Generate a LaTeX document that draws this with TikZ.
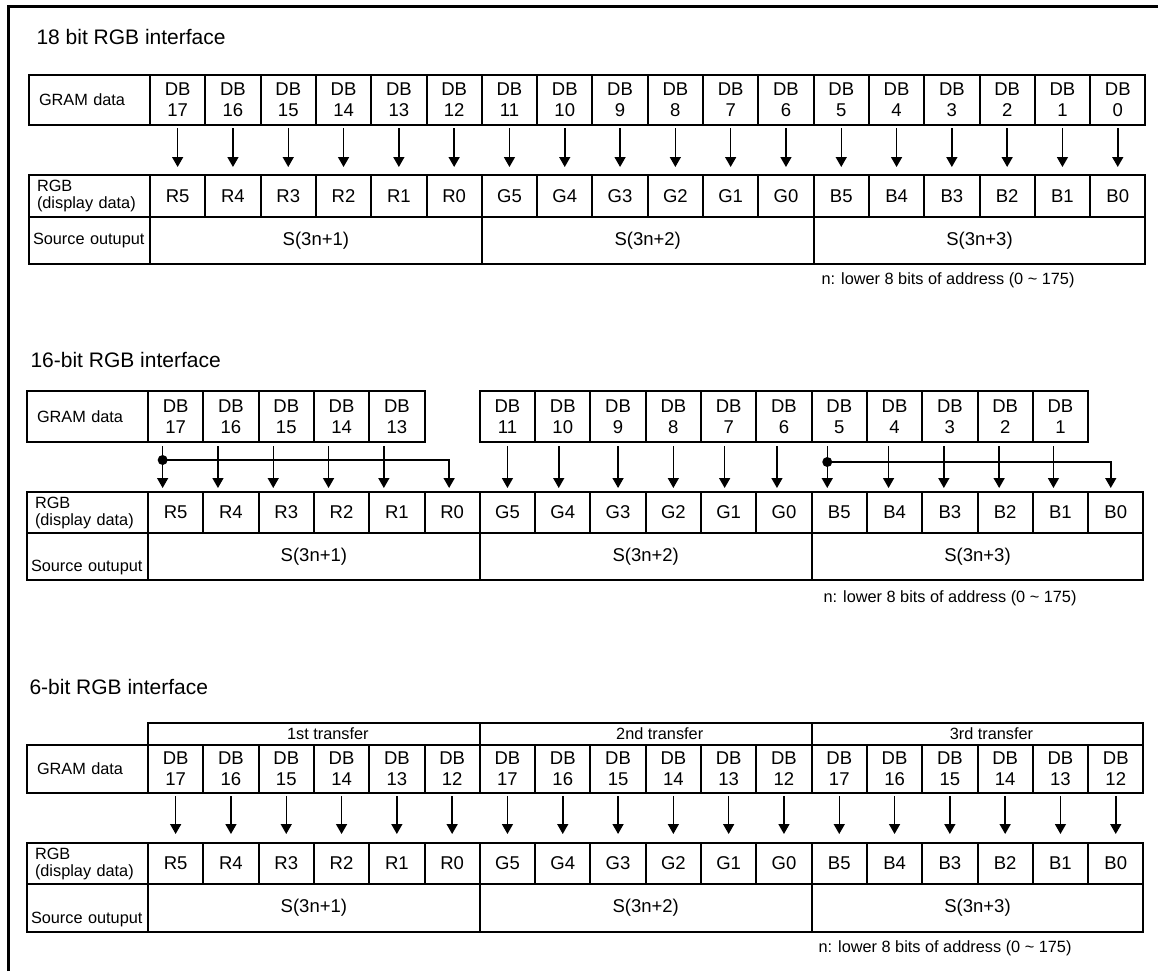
\documentclass[tikz,border=0pt]{standalone}
\usepackage{fontspec}
\setmainfont{Liberation Sans}
\usetikzlibrary{arrows.meta}

\tikzset{
  cell/.style={draw,line width=2pt,inner sep=0pt,minimum width=55.3pt,align=center,font=\fontsize{18.5}{21}\selectfont},
  gram/.style={cell,minimum height=50pt},
  rgbcell/.style={cell,minimum height=42pt},
  src/.style={cell,minimum width=331.8pt,minimum height=47pt},
  lab/.style 2 args={draw,line width=2pt,minimum width=121pt,inner ysep=0pt,inner xsep=#1,text width=#2,align=left,font=\fontsize{16.3}{17}\selectfont},
  title/.style={anchor=west,font=\fontsize{21}{25}\selectfont},
  note/.style={anchor=west,font=\fontsize{16.3}{19}\selectfont},
  arr/.style={line width=1.5pt,-{Triangle[length=10pt,width=11pt]}},
}

\begin{document}
\begin{tikzpicture}[x=1pt,y=-1pt]
\useasboundingbox (0,0) rectangle (1158,971);
\draw[line width=3pt] (8,971) -- (8,7) -- (1158,7);

\node[title] (tA) at (33,37) {18 bit RGB interface};
\node[lab={10pt}{101pt},minimum height=50pt] (lgA) at (89.5,100) {GRAM data};
\node[lab={8pt}{105pt},minimum height=42pt] (lrA) at (89.5,196) {RGB\\(display data)};
\node[lab={4pt}{113pt},minimum height=47pt] (lsA) at (89.5,240.5) {Source outuput};
\foreach \k in {0,...,17}{
  \pgfmathtruncatemacro\nb{17-\k}
  \node[gram] (gA\k) at ({150+55.3*(\k+.5)},100) {DB\\\nb};
}
\foreach \txt [count=\k from 0] in {R5,R4,R3,R2,R1,R0,G5,G4,G3,G2,G1,G0,B5,B4,B3,B2,B1,B0}
  \node[rgbcell] (rA\k) at ({150+55.3*(\k+.5)},196) {\txt};
\foreach \txt [count=\j from 0] in {S(3n+1),S(3n+2),S(3n+3)}
  \node[src] (sA\j) at ({150+331.8*(\j+.5)},240.5) {\txt};
\foreach \k in {0,...,17}
  \draw[arr,shorten <=2pt,shorten >=7pt] (gA\k) -- (rA\k);
\node[note] (nA) at (818,280) {n: lower 8 bits of address (0 \textasciitilde{} 175)};

\node[title] (tB) at (27,360) {16-bit RGB interface};
\node[lab={10pt}{101pt},minimum height=51pt] (lgB) at (87.5,416.5) {GRAM data};
\node[lab={8pt}{105pt},minimum height=41pt] (lrB) at (87.5,512.5) {RGB\\(display data)};
\node[lab={4pt}{113pt},minimum height=47pt,text height=30pt,text depth=0pt] (lsB) at (87.5,556.5) {Source outuput};
\foreach \k in {0,...,4,6,7,...,16}{
  \pgfmathtruncatemacro\nb{17-\k}
  \node[gram,minimum height=51pt] (gB\k) at ({148+55.3*(\k+.5)},416.5) {DB\\\nb};
}
\foreach \txt [count=\k from 0] in {R5,R4,R3,R2,R1,R0,G5,G4,G3,G2,G1,G0,B5,B4,B3,B2,B1,B0}
  \node[rgbcell,minimum height=41pt] (rB\k) at ({148+55.3*(\k+.5)},512.5) {\txt};
\foreach \txt [count=\j from 0] in {S(3n+1),S(3n+2),S(3n+3)}
  \node[src] (sB\j) at ({148+331.8*(\j+.5)},556.5) {\txt};
\foreach \k/\d in {0/-13,1/-13,2/-13,3/-13,4/-13,6/0,7/-4,8/0,9/0,10/-4,11/-7,12/-12,13/-6,14/-6,15/-6,16/-7}
  \draw[arr,shorten <=3pt,shorten >=3pt] ([xshift=\d pt]gB\k.south) -- ([xshift=\d pt]rB\k.north);
\coordinate (jR) at ([xshift=-13pt]gB0.south |- 0,460);
\coordinate (jB) at ([xshift=-12pt]gB12.south |- 0,462);
\fill (jR) circle (5pt);
\fill (jB) circle (5pt);
\draw[arr,shorten >=3pt] (jR) -| ([xshift=-3pt]rB5.north);
\draw[arr,shorten >=3pt] (jB) -| ([xshift=-5pt]rB17.north);
\node[note] (nB) at (820,598) {n: lower 8 bits of address (0 \textasciitilde{} 175)};

\node[title] (tC) at (26,687) {6-bit RGB interface};
\foreach \txt [count=\j from 0] in {1st,2nd,3rd}
  \node[cell,minimum width=331.8pt,minimum height=22pt,font=\fontsize{16.3}{19}\selectfont] (xC\j) at ({148+331.8*(\j+.5)},734) {\hspace*{28pt}\txt{} transfer};
\node[lab={10pt}{101pt},minimum height=48pt] (lgC) at (87.5,769) {GRAM data};
\node[lab={8pt}{105pt},minimum height=41pt] (lrC) at (87.5,863.5) {RGB\\(display data)};
\node[lab={4pt}{113pt},minimum height=48pt,text height=30pt,text depth=0pt] (lsC) at (87.5,908) {Source outuput};
\foreach \k in {0,...,17}{
  \pgfmathtruncatemacro\nb{17-mod(\k,6)}
  \node[gram,minimum height=48pt] (gC\k) at ({148+55.3*(\k+.5)},769) {DB\\\nb};
}
\foreach \txt [count=\k from 0] in {R5,R4,R3,R2,R1,R0,G5,G4,G3,G2,G1,G0,B5,B4,B3,B2,B1,B0}
  \node[rgbcell,minimum height=41pt] (rC\k) at ({148+55.3*(\k+.5)},863.5) {\txt};
\foreach \txt [count=\j from 0] in {S(3n+1),S(3n+2),S(3n+3)}
  \node[src,minimum height=48pt] (sC\j) at ({148+331.8*(\j+.5)},908) {\txt};
\foreach \k in {0,...,17}
  \draw[arr,shorten <=2pt,shorten >=8pt] (gC\k) -- (rC\k);
\node[note] (nC) at (815,948) {n: lower 8 bits of address (0 \textasciitilde{} 175)};
\end{tikzpicture}
\end{document}
